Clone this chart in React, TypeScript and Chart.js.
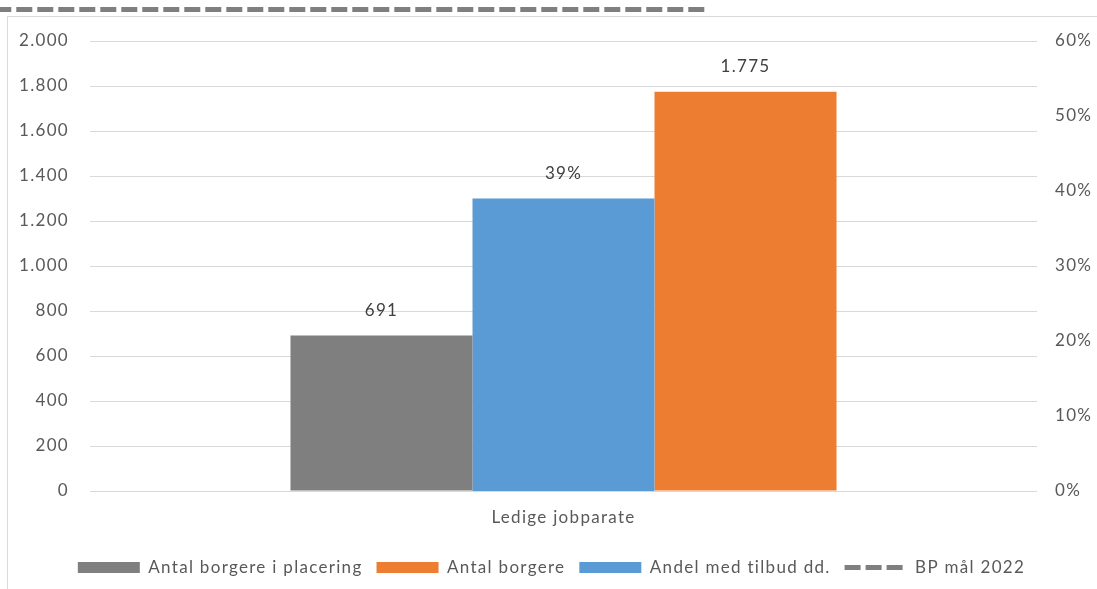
import React, { useEffect, useRef } from "react";
import { Chart, registerables } from "chart.js";

Chart.register(...registerables);

// Category and series values
const categories = ["Ledige jobparate"];
const placeringLabel = "Antal borgere i placering";
const borgereLabel = "Antal borgere";
const andelLabel = "Andel med tilbud dd.";
const bpLabel = "BP mål 2022";

const placeringValues = [691];
const borgereValues = [1775];
const andelValues = [0.39];

// BP target line: level on the percentage axis, and its start/end
// expressed as positions on the category axis
const bpValues = [0.642];
const bpSpan = [-0.6, 0.149];

// Axis ticks
const leftTicks = [0, 200, 400, 600, 800, 1000, 1200, 1400, 1600, 1800, 2000];
const rightTicks = [0, 0.1, 0.2, 0.3, 0.4, 0.5, 0.6];

const FONT = "Lato, 'Open Sans', sans-serif";
const TEXT = "#595959";
const SPACING = "1.3px";

const fmtThousands = (n: number) =>
  Math.round(n).toString().replace(/\B(?=(\d{3})+(?!\d))/g, ".");
const fmtPct = (n: number) => `${Math.round(n * 100)}%`;

// Slightly tracked text everywhere on the canvas
const tracking = {
  id: "tracking",
  beforeUpdate(chart: any) {
    (chart.ctx as any).letterSpacing = SPACING;
  },
  beforeDraw(chart: any) {
    (chart.ctx as any).letterSpacing = SPACING;
  },
};

// Dashed BP line, drawn from the line dataset's value and style
const bpLine = {
  id: "bpLine",
  afterDatasetsDraw(chart: any) {
    const ds = chart.data.datasets[3];
    const x = chart.scales.x;
    const y1 = chart.scales.y1;
    const ctx = chart.ctx;
    const py = y1.getPixelForValue(ds.data[0]);
    ctx.save();
    ctx.strokeStyle = ds.borderColor;
    ctx.lineWidth = ds.borderWidth;
    ctx.setLineDash(ds.borderDash);
    ctx.lineCap = "butt";
    ctx.beginPath();
    ctx.moveTo(x.getPixelForValue(bpSpan[0]), py);
    ctx.lineTo(x.getPixelForValue(bpSpan[1]), py);
    ctx.stroke();
    ctx.restore();
  },
};

const valueLabels = {
  id: "valueLabels",
  afterDatasetsDraw(chart: any) {
    const ctx = chart.ctx;
    ctx.save();
    ctx.font = `17px ${FONT}`;
    ctx.fillStyle = "#404040";
    ctx.textAlign = "center";
    ctx.textBaseline = "middle";
    [0, 1, 2].forEach((di) => {
      const meta = chart.getDatasetMeta(di);
      const ds = chart.data.datasets[di];
      meta.data.forEach((el: any, i: number) => {
        const v = ds.data[i] as number;
        const txt = ds.yAxisID === "y1" ? fmtPct(v) : fmtThousands(v);
        ctx.fillText(txt, el.x, el.y - 25);
      });
    });
    ctx.restore();
  },
};

const legendRank = [0, 2, 1, 3];

export default function App() {
  const ref = useRef<HTMLCanvasElement | null>(null);

  useEffect(() => {
    document.body.style.margin = "0";
    const canvas = ref.current;
    if (!canvas) return;
    const chart = new Chart(canvas, {
      type: "bar",
      data: {
        labels: categories,
        datasets: [
          {
            label: placeringLabel,
            data: placeringValues,
            backgroundColor: "#7f7f7f",
            borderWidth: 0,
            yAxisID: "y",
            categoryPercentage: 0.5766,
            barPercentage: 1,
          },
          {
            label: andelLabel,
            data: andelValues,
            backgroundColor: "#5b9bd5",
            borderWidth: 0,
            yAxisID: "y1",
            categoryPercentage: 0.5766,
            barPercentage: 1,
          },
          {
            label: borgereLabel,
            data: borgereValues,
            backgroundColor: "#ed7d31",
            borderWidth: 0,
            yAxisID: "y",
            categoryPercentage: 0.5766,
            barPercentage: 1,
          },
          {
            type: "line",
            label: bpLabel,
            data: bpValues,
            yAxisID: "y1",
            borderColor: "#7f7f7f",
            backgroundColor: "#7f7f7f",
            borderWidth: 5,
            borderDash: [16, 5],
            pointRadius: 0,
            showLine: false,
          } as any,
        ],
      },
      options: {
        animation: false,
        responsive: false,
        maintainAspectRatio: false,
        layout: { padding: { top: 41, bottom: 3, left: 6, right: 0 } },
        plugins: {
          tooltip: { enabled: false },
          legend: {
            position: "bottom",
            labels: {
              font: { family: FONT, size: 17 },
              color: TEXT,
              usePointStyle: true,
              pointStyleWidth: 62,
              boxHeight: 11,
              padding: 14,
              sort: (a: any, b: any) =>
                legendRank[a.datasetIndex] - legendRank[b.datasetIndex],
              generateLabels: (c: any) => {
                const items = Chart.defaults.plugins.legend.labels.generateLabels(c);
                return items.map((it: any) => {
                  const ds = c.data.datasets[it.datasetIndex];
                  if (ds.type === "line") {
                    return { ...it, pointStyle: "line", lineWidth: 5, lineDash: [16, 5] };
                  }
                  return { ...it, pointStyle: "rect", lineWidth: 0 };
                });
              },
            },
          },
        },
        scales: {
          x: {
            type: "category",
            grid: { display: false, drawTicks: false },
            border: { display: false },
            ticks: { font: { family: FONT, size: 17 }, color: TEXT, padding: 16 },
            afterFit: (s: any) => {
              s.height = 54;
            },
          },
          y: {
            type: "linear",
            position: "left",
            min: 0,
            max: 2000,
            afterBuildTicks: (s: any) => {
              s.ticks = leftTicks.map((value) => ({ value }));
            },
            grid: { color: "#d9d9d9", lineWidth: 1, drawTicks: false },
            border: { display: false },
            ticks: {
              font: { family: FONT, size: 17 },
              color: TEXT,
              padding: 21,
              callback: (v: any) => fmtThousands(Number(v)),
            },
            afterFit: (s: any) => {
              s.width = 84;
            },
          },
          y1: {
            type: "linear",
            position: "right",
            min: 0,
            max: 0.6,
            afterBuildTicks: (s: any) => {
              s.ticks = rightTicks.map((value) => ({ value }));
            },
            grid: { display: false, drawTicks: false },
            border: { display: false },
            ticks: {
              font: { family: FONT, size: 17 },
              color: TEXT,
              padding: 18,
              callback: (v: any) => fmtPct(Number(v)),
            },
            afterFit: (s: any) => {
              s.width = 60;
            },
          },
        },
      },
      plugins: [tracking, bpLine, valueLabels],
    });
    return () => chart.destroy();
  }, []);

  return (
    <div style={{ position: "relative", width: 1097, height: 589, background: "#fff" }}>
      <div
        style={{
          position: "absolute",
          left: 7,
          top: 16,
          right: 0,
          bottom: 0,
          borderLeft: "1px solid #d9d9d9",
          borderTop: "1px solid #d9d9d9",
        }}
      />
      <canvas
        ref={ref}
        width={1097}
        height={589}
        style={{ position: "absolute", left: 0, top: 0, width: 1097, height: 589 }}
      />
    </div>
  );
}
